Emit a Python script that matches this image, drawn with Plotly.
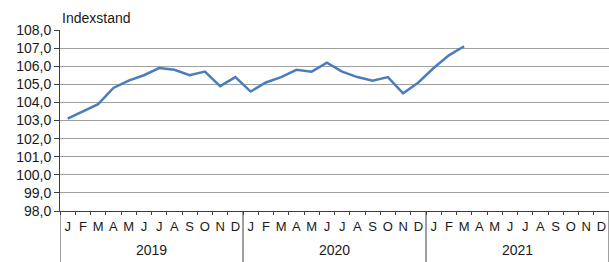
import plotly.graph_objects as go

years = ["2019", "2020", "2021"]
month_letters = ["J", "F", "M", "A", "M", "J", "J", "A", "S", "O", "N", "D"]
values_2019 = [103.1, 103.5, 103.9, 104.8, 105.2, 105.5, 105.9, 105.8, 105.5, 105.7, 104.9, 105.4]
values_2020 = [104.6, 105.1, 105.4, 105.8, 105.7, 106.2, 105.7, 105.4, 105.2, 105.4, 104.5, 105.1]
values_2021 = [105.9, 106.6, 107.1]
y_title = "Indexstand"

values = values_2019 + values_2020 + values_2021
n_months = 12 * len(years)
x_idx = list(range(len(values)))
tick_text = month_letters * len(years)

W, H = 609, 262
ml, mr, mt, mb = 60, 0, 30, 51
plot_h = H - mt - mb
font = "Liberation Sans, Arial, sans-serif"
dark = "#404040"
txt = "#1a1a1a"

fig = go.Figure()
fig.add_trace(go.Scatter(
    x=x_idx, y=values, mode="lines",
    line=dict(color="#4A7EBB", width=2.5),
    hoverinfo="skip", showlegend=False,
))

shapes = []
for i in range(len(years) + 1):
    shapes.append(dict(
        type="line", xref="x", yref="paper",
        x0=-0.5 + 12 * i, x1=-0.5 + 12 * i,
        y0=0, y1=-mb / plot_h,
        line=dict(color=dark, width=1),
    ))

annotations = [dict(
    text=y_title, xref="paper", yref="paper", x=0, y=1,
    xanchor="left", yanchor="bottom", xshift=0, yshift=2,
    showarrow=False, font=dict(family=font, size=14, color=txt),
)]
for i, yr in enumerate(years):
    annotations.append(dict(
        text=yr, xref="x", yref="paper", x=5.5 + 12 * i, y=-(250 - (H - mb)) / plot_h,
        xanchor="center", yanchor="middle", showarrow=False,
        font=dict(family=font, size=14, color=txt),
    ))

fig.update_layout(
    width=W, height=H,
    margin=dict(l=ml, r=mr, t=mt, b=mb, pad=0),
    paper_bgcolor="white", plot_bgcolor="white",
    separators=",.",
    font=dict(family=font, size=14, color=txt),
    shapes=shapes, annotations=annotations,
    xaxis=dict(
        range=[-0.5, n_months - 0.5],
        tickmode="array", tickvals=list(range(n_months)), ticktext=tick_text,
        ticks="", showgrid=False, zeroline=False,
        showline=True, linecolor=dark, linewidth=1,
        tickfont=dict(family=font, size=13, color=txt),
        ticklabelstandoff=3,
        minor=dict(
            tickmode="array",
            tickvals=[k - 0.5 for k in range(n_months + 1)],
            ticks="outside", ticklen=3, tickcolor=dark, tickwidth=1,
            showgrid=False,
        ),
    ),
    yaxis=dict(
        range=[98, 108], tick0=98, dtick=1, tickformat=".1f",
        ticks="outside", ticklen=5, tickcolor=dark,
        showline=True, linecolor=dark, linewidth=1,
        showgrid=True, gridcolor="#a0a0a0", gridwidth=1,
        zeroline=False,
        tickfont=dict(family=font, size=14, color=txt),
    ),
)

fig.write_html(
    "out.html",
    config={"displayModeBar": False},
    post_script="document.body.style.margin='0';document.body.style.overflow='hidden';",
)
